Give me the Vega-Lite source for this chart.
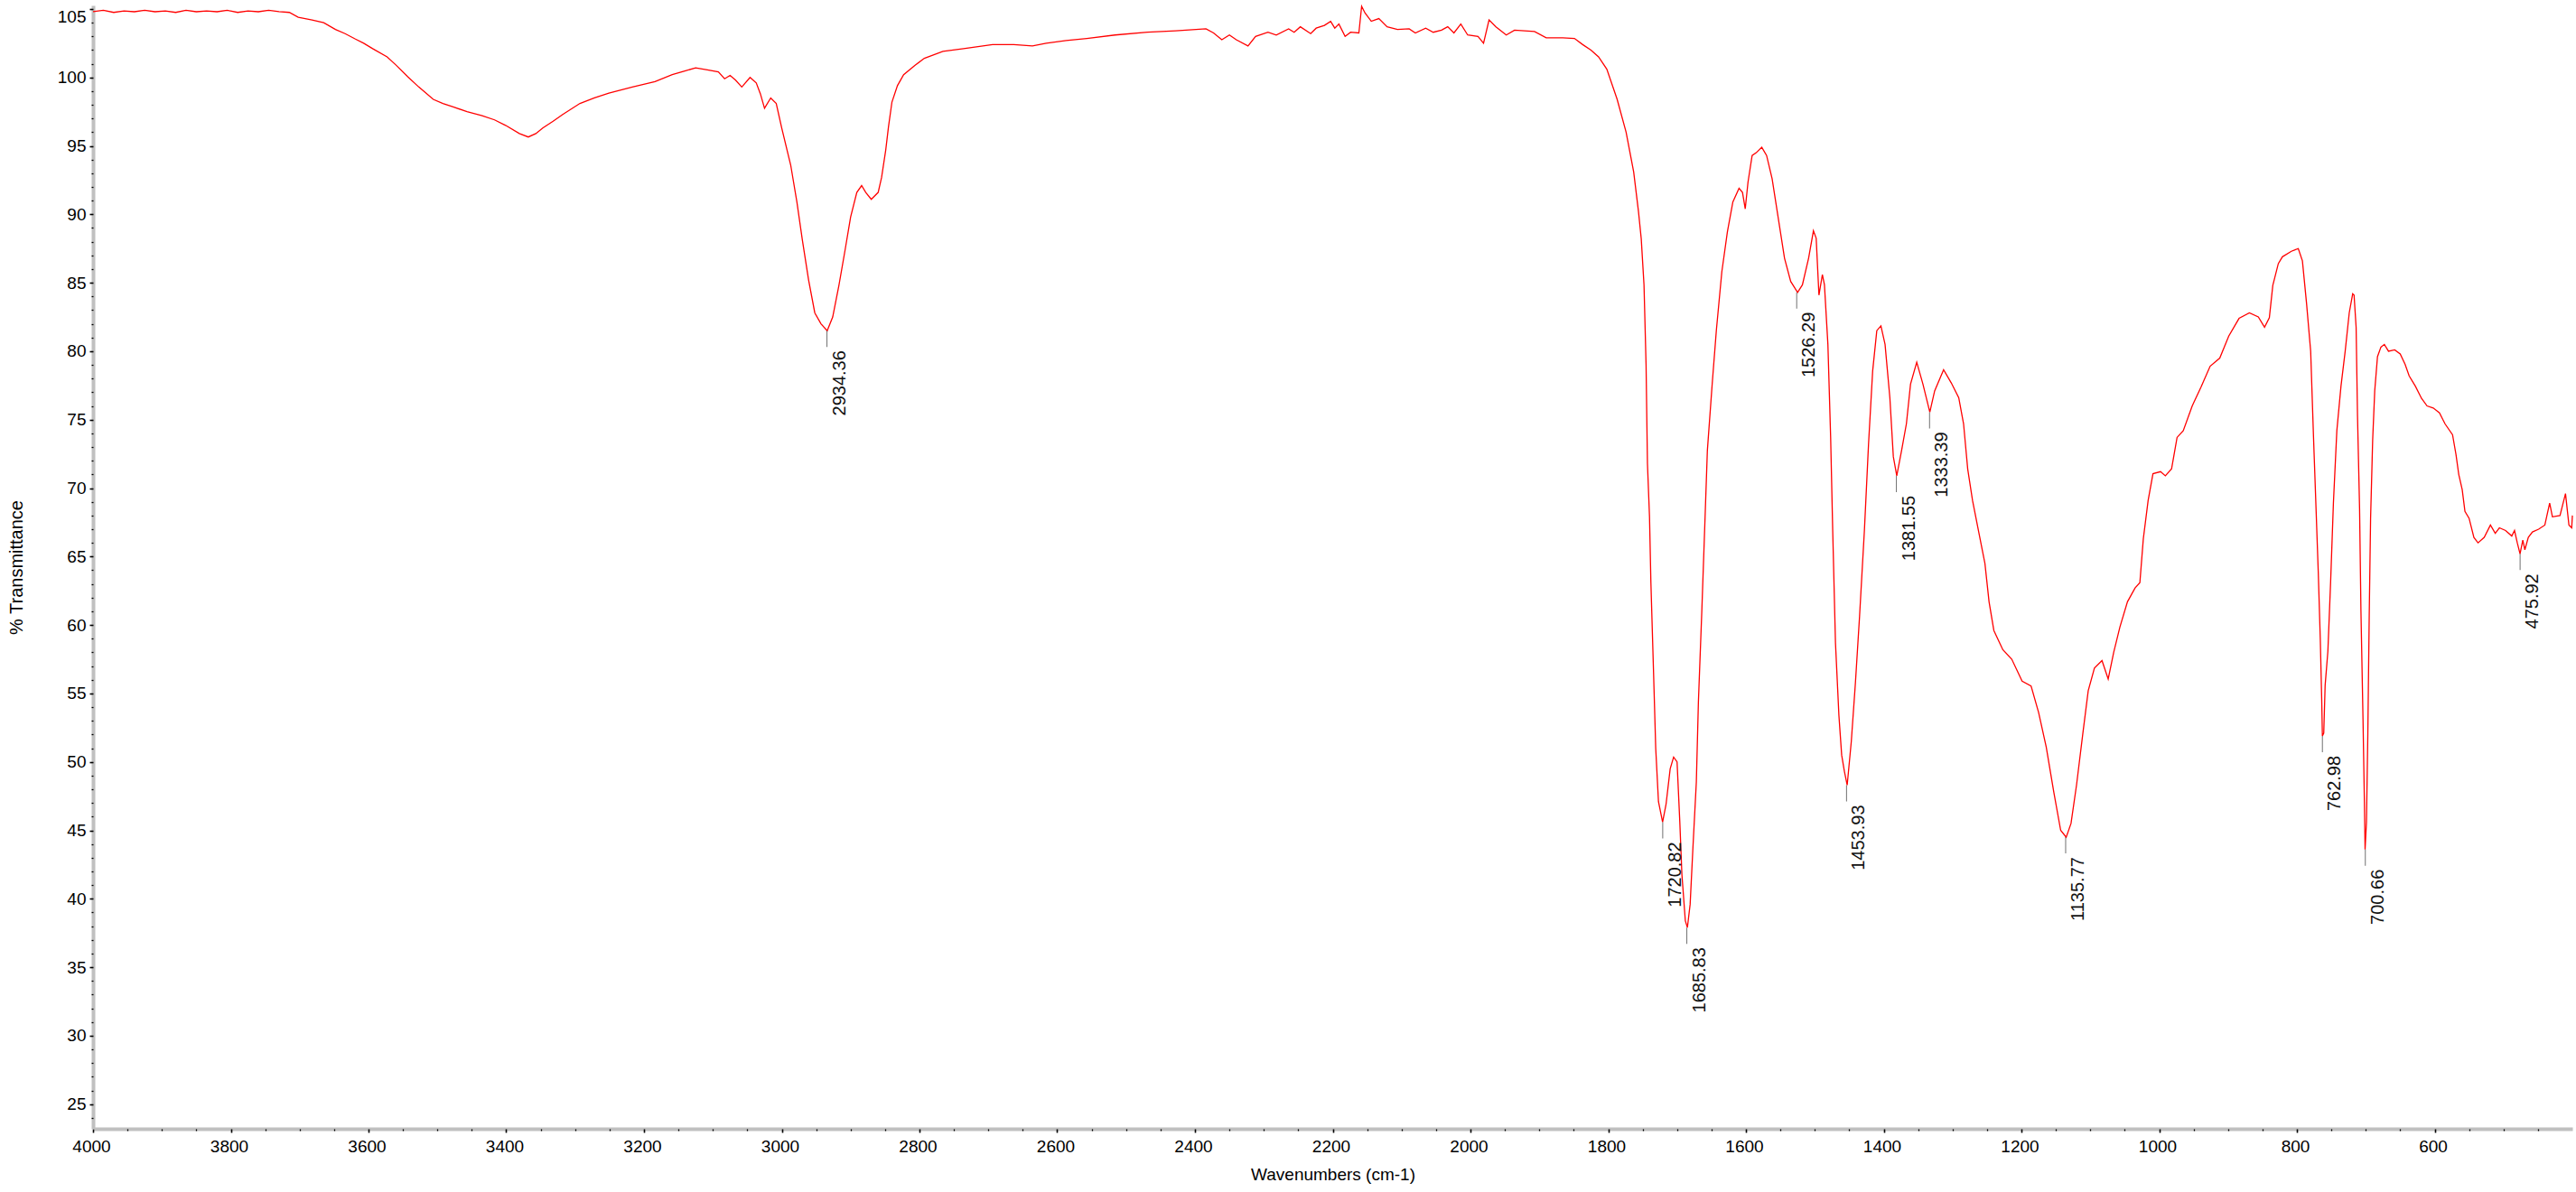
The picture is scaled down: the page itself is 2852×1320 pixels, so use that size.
{
  "$schema": "https://vega.github.io/schema/vega-lite/v6.json",
  "width": 2745,
  "height": 1244,
  "autosize": {"type": "none"},
  "padding": {"left": 103, "top": 6, "right": 4, "bottom": 70},
  "background": "white",
  "config": {"font": "Liberation Sans", "view": {"stroke": null}},
  "datasets": {
    "spectrum": [
      {"wn":4000,"T":104.8},{"wn":3985,"T":104.9},{"wn":3970,"T":104.75},{"wn":3955,"T":104.85},{"wn":3940,"T":104.8},{"wn":3925,"T":104.9},{"wn":3910,"T":104.8},{"wn":3895,"T":104.85},{"wn":3880,"T":104.75},{"wn":3865,"T":104.9},{"wn":3850,"T":104.8},{"wn":3835,"T":104.85},{"wn":3820,"T":104.8},{"wn":3805,"T":104.9},{"wn":3790,"T":104.75},{"wn":3775,"T":104.85},{"wn":3760,"T":104.8},{"wn":3745,"T":104.9},{"wn":3730,"T":104.8},{"wn":3715,"T":104.75},
      {"wn":3702,"T":104.4},{"wn":3692,"T":104.3},{"wn":3682,"T":104.2},{"wn":3665,"T":104.0},{"wn":3648,"T":103.5},{"wn":3634,"T":103.2},{"wn":3619,"T":102.8},{"wn":3607,"T":102.5},{"wn":3594,"T":102.1},{"wn":3573,"T":101.5},{"wn":3560,"T":100.9},{"wn":3543,"T":100.05},{"wn":3527,"T":99.3},{"wn":3506,"T":98.4},{"wn":3492,"T":98.1},{"wn":3477,"T":97.85},{"wn":3457,"T":97.5},{"wn":3435,"T":97.2},{"wn":3417,"T":96.9},{"wn":3401,"T":96.5},{"wn":3381,"T":95.9},{"wn":3368,"T":95.65},{"wn":3357,"T":95.9},{"wn":3347,"T":96.3},{"wn":3332,"T":96.8},{"wn":3318,"T":97.3},{"wn":3293,"T":98.1},{"wn":3272,"T":98.5},{"wn":3251,"T":98.85},{"wn":3217,"T":99.3},{"wn":3184,"T":99.7},{"wn":3159,"T":100.2},{"wn":3142,"T":100.45},{"wn":3125,"T":100.7},{"wn":3108,"T":100.55},{"wn":3092,"T":100.4},{"wn":3083,"T":99.9},{"wn":3075,"T":100.15},{"wn":3067,"T":99.8},{"wn":3058,"T":99.3},{"wn":3046,"T":100.0},{"wn":3037,"T":99.6},{"wn":3031,"T":98.8},{"wn":3025,"T":97.75},{"wn":3016,"T":98.5},{"wn":3008,"T":98.1},{"wn":3000,"T":96.3},{"wn":2987,"T":93.6},{"wn":2978,"T":90.9},{"wn":2970,"T":88.1},{"wn":2961,"T":85.2},{"wn":2952,"T":82.8},{"wn":2943,"T":82.0},{"wn":2934,"T":81.5},{"wn":2926,"T":82.5},{"wn":2917,"T":84.8},{"wn":2908,"T":87.4},{"wn":2900,"T":89.8},{"wn":2891,"T":91.6},{"wn":2884,"T":92.1},{"wn":2878,"T":91.6},{"wn":2870,"T":91.1},{"wn":2860,"T":91.6},{"wn":2855,"T":92.7},{"wn":2849,"T":94.7},{"wn":2845,"T":96.4},{"wn":2840,"T":98.2},{"wn":2832,"T":99.4},{"wn":2823,"T":100.2},{"wn":2806,"T":100.9},{"wn":2793,"T":101.4},{"wn":2766,"T":101.9},{"wn":2736,"T":102.1},{"wn":2694,"T":102.4},{"wn":2663,"T":102.4},{"wn":2636,"T":102.3},{"wn":2616,"T":102.5},{"wn":2587,"T":102.7},{"wn":2557,"T":102.85},{"wn":2516,"T":103.1},{"wn":2469,"T":103.3},{"wn":2428,"T":103.4},{"wn":2384,"T":103.55},{"wn":2373,"T":103.25},{"wn":2361,"T":102.75},{"wn":2350,"T":103.1},{"wn":2340,"T":102.75},{"wn":2323,"T":102.3},{"wn":2312,"T":103.0},{"wn":2294,"T":103.3},{"wn":2282,"T":103.1},{"wn":2264,"T":103.55},{"wn":2256,"T":103.3},{"wn":2247,"T":103.7},{"wn":2232,"T":103.2},{"wn":2224,"T":103.6},{"wn":2212,"T":103.8},{"wn":2203,"T":104.1},{"wn":2197,"T":103.6},{"wn":2191,"T":103.9},{"wn":2182,"T":103.0},{"wn":2174,"T":103.3},{"wn":2162,"T":103.25},{"wn":2158,"T":105.2},{"wn":2153,"T":104.7},{"wn":2144,"T":104.1},{"wn":2133,"T":104.3},{"wn":2121,"T":103.7},{"wn":2106,"T":103.5},{"wn":2089,"T":103.55},{"wn":2080,"T":103.25},{"wn":2065,"T":103.6},{"wn":2054,"T":103.3},{"wn":2042,"T":103.45},{"wn":2033,"T":103.7},{"wn":2024,"T":103.25},{"wn":2014,"T":103.9},{"wn":2004,"T":103.1},{"wn":1989,"T":103.0},{"wn":1981,"T":102.5},{"wn":1973,"T":104.2},{"wn":1963,"T":103.7},{"wn":1948,"T":103.1},{"wn":1936,"T":103.45},{"wn":1907,"T":103.35},{"wn":1890,"T":102.9},{"wn":1866,"T":102.9},{"wn":1849,"T":102.85},{"wn":1837,"T":102.4},{"wn":1825,"T":102.0},{"wn":1814,"T":101.5},{"wn":1802,"T":100.6},{"wn":1787,"T":98.4},{"wn":1774,"T":96.0},{"wn":1763,"T":93.1},{"wn":1756,"T":90.2},{"wn":1752,"T":88.2},{"wn":1748,"T":84.85},{"wn":1745,"T":79.0},{"wn":1743,"T":71.8},{"wn":1740,"T":67.9},{"wn":1738,"T":63.1},{"wn":1734,"T":56.3},{"wn":1731,"T":51.0},{"wn":1727,"T":47.1},{"wn":1721,"T":45.6},{"wn":1716,"T":46.9},{"wn":1710,"T":49.5},{"wn":1705,"T":50.35},{"wn":1700,"T":50.0},{"wn":1696,"T":45.6},{"wn":1693,"T":41.8},{"wn":1688,"T":38.4},{"wn":1685,"T":37.9},{"wn":1681,"T":39.6},{"wn":1677,"T":43.7},{"wn":1672,"T":48.55},{"wn":1669,"T":54.4},{"wn":1664,"T":61.1},{"wn":1660,"T":66.9},{"wn":1656,"T":72.75},{"wn":1649,"T":77.6},{"wn":1643,"T":81.5},{"wn":1635,"T":85.8},{"wn":1627,"T":88.7},{"wn":1619,"T":90.9},{"wn":1610,"T":91.9},{"wn":1605,"T":91.6},{"wn":1601,"T":90.4},{"wn":1597,"T":92.35},{"wn":1591,"T":94.3},{"wn":1585,"T":94.5},{"wn":1577,"T":94.9},{"wn":1570,"T":94.3},{"wn":1562,"T":92.6},{"wn":1553,"T":89.7},{"wn":1544,"T":86.8},{"wn":1535,"T":85.1},{"wn":1525,"T":84.3},{"wn":1518,"T":84.85},{"wn":1509,"T":86.8},{"wn":1502,"T":88.8},{"wn":1498,"T":88.25},{"wn":1494,"T":84.1},{"wn":1489,"T":85.6},{"wn":1486,"T":84.85},{"wn":1481,"T":80.5},{"wn":1477,"T":73.7},{"wn":1474,"T":66.9},{"wn":1470,"T":58.7},{"wn":1465,"T":53.4},{"wn":1461,"T":50.5},{"wn":1457,"T":49.3},{"wn":1453,"T":48.3},{"wn":1447,"T":51.5},{"wn":1441,"T":55.8},{"wn":1435,"T":60.65},{"wn":1428,"T":66.9},{"wn":1422,"T":73.2},{"wn":1416,"T":78.55},{"wn":1410,"T":81.5},{"wn":1404,"T":81.85},{"wn":1398,"T":80.5},{"wn":1391,"T":76.6},{"wn":1386,"T":72.3},{"wn":1381,"T":70.9},{"wn":1374,"T":72.75},{"wn":1367,"T":74.7},{"wn":1361,"T":77.6},{"wn":1352,"T":79.2},{"wn":1343,"T":77.6},{"wn":1333,"T":75.55},{"wn":1326,"T":77.1},{"wn":1313,"T":78.65},{"wn":1302,"T":77.7},{"wn":1291,"T":76.6},{"wn":1284,"T":74.7},{"wn":1278,"T":71.4},{"wn":1271,"T":69.1},{"wn":1262,"T":66.8},{"wn":1253,"T":64.5},{"wn":1247,"T":61.7},{"wn":1240,"T":59.6},{"wn":1227,"T":58.2},{"wn":1214,"T":57.5},{"wn":1199,"T":55.9},{"wn":1186,"T":55.55},{"wn":1175,"T":53.6},{"wn":1164,"T":51.1},{"wn":1153,"T":47.8},{"wn":1143,"T":45.0},{"wn":1135,"T":44.5},{"wn":1128,"T":45.5},{"wn":1120,"T":48.3},{"wn":1111,"T":52.0},{"wn":1103,"T":55.2},{"wn":1094,"T":56.85},{"wn":1083,"T":57.4},{"wn":1074,"T":56.05},{"wn":1066,"T":58.0},{"wn":1057,"T":59.85},{"wn":1046,"T":61.7},{"wn":1035,"T":62.7},{"wn":1028,"T":63.1},{"wn":1023,"T":66.3},{"wn":1016,"T":69.1},{"wn":1009,"T":71.05},{"wn":998,"T":71.2},{"wn":991,"T":70.9},{"wn":982,"T":71.4},{"wn":974,"T":73.7},{"wn":965,"T":74.2},{"wn":952,"T":76.0},{"wn":939,"T":77.4},{"wn":926,"T":78.9},{"wn":912,"T":79.5},{"wn":899,"T":81.1},{"wn":884,"T":82.4},{"wn":869,"T":82.8},{"wn":856,"T":82.5},{"wn":847,"T":81.75},{"wn":840,"T":82.45},{"wn":835,"T":84.8},{"wn":827,"T":86.4},{"wn":821,"T":86.9},{"wn":808,"T":87.3},{"wn":798,"T":87.5},{"wn":792,"T":86.6},{"wn":786,"T":83.5},{"wn":780,"T":80.0},{"wn":776,"T":73.9},{"wn":772,"T":68.2},{"wn":769,"T":63.9},{"wn":766,"T":58.9},{"wn":764,"T":54.6},{"wn":763,"T":51.9},{"wn":761,"T":52.1},{"wn":759,"T":55.6},{"wn":755,"T":58.1},{"wn":751,"T":63.2},{"wn":747,"T":68.9},{"wn":742,"T":74.2},{"wn":736,"T":77.45},{"wn":730,"T":79.95},{"wn":724,"T":82.8},{"wn":719,"T":84.2},{"wn":717,"T":84.1},{"wn":714,"T":81.75},{"wn":712,"T":75.3},{"wn":709,"T":68.5},{"wn":707,"T":61.0},{"wn":704,"T":53.1},{"wn":702,"T":47.1},{"wn":701,"T":43.6},{"wn":699,"T":45.6},{"wn":697,"T":52.1},{"wn":695,"T":60.65},{"wn":693,"T":67.8},{"wn":690,"T":73.5},{"wn":687,"T":77.1},{"wn":683,"T":79.6},{"wn":678,"T":80.3},{"wn":673,"T":80.5},{"wn":667,"T":80.0},{"wn":658,"T":80.1},{"wn":650,"T":79.8},{"wn":643,"T":79.05},{"wn":637,"T":78.2},{"wn":628,"T":77.45},{"wn":619,"T":76.55},{"wn":611,"T":76.0},{"wn":602,"T":75.85},{"wn":593,"T":75.5},{"wn":585,"T":74.7},{"wn":574,"T":73.9},{"wn":569,"T":72.45},{"wn":565,"T":71.0},{"wn":560,"T":69.9},{"wn":556,"T":68.3},{"wn":550,"T":67.8},{"wn":543,"T":66.4},{"wn":537,"T":66.0},{"wn":528,"T":66.4},{"wn":519,"T":67.3},{"wn":512,"T":66.7},{"wn":506,"T":67.1},{"wn":497,"T":66.9},{"wn":488,"T":66.5},{"wn":484,"T":66.9},{"wn":480,"T":66.0},{"wn":476,"T":65.2},{"wn":472,"T":66.2},{"wn":469,"T":65.5},{"wn":464,"T":66.4},{"wn":458,"T":66.8},{"wn":449,"T":67.0},{"wn":440,"T":67.3},{"wn":433,"T":68.9},{"wn":429,"T":67.9},{"wn":418,"T":68.0},{"wn":410,"T":69.6},{"wn":405,"T":67.3},{"wn":401,"T":67.1},{"wn":400,"T":68.0}
    ],
    "peaks": [
      {"wn":2934.36,"T":81.5,"label":"2934.36"},
      {"wn":1720.82,"T":45.6,"label":"1720.82"},
      {"wn":1685.83,"T":37.9,"label":"1685.83"},
      {"wn":1526.29,"T":84.3,"label":"1526.29"},
      {"wn":1453.93,"T":48.3,"label":"1453.93"},
      {"wn":1381.55,"T":70.9,"label":"1381.55"},
      {"wn":1333.39,"T":75.55,"label":"1333.39"},
      {"wn":1135.77,"T":44.5,"label":"1135.77"},
      {"wn":762.98,"T":51.9,"label":"762.98"},
      {"wn":700.66,"T":43.6,"label":"700.66"},
      {"wn":475.92,"T":65.2,"label":"475.92"}
    ]
  },
  "layer": [
    {
      "data": {"name": "spectrum"},
      "mark": {"type": "line", "color": "#ff0000", "strokeWidth": 1.3},
      "encoding": {
        "x": {"field": "wn", "type": "quantitative",
          "scale": {"domain": [4000, 400], "nice": false, "zero": false},
          "axis": {"orient": "bottom", "values": [4000,3800,3600,3400,3200,3000,2800,2600,2400,2200,2000,1800,1600,1400,1200,1000,800,600],
            "format": "d", "grid": false, "ticks": true, "tickSize": 4, "tickOpacity": 0,
            "domainColor": "#c0c0c0", "domainWidth": 4,
            "labelFontSize": 19, "labelColor": "#000", "labelPadding": 6, "labelOffset": -2, "labelOverlap": false, "labelFlush": false,
            "title": "Wavenumbers (cm-1)", "titleFontSize": 19, "titleFontWeight": "normal", "titleColor": "#000", "titlePadding": 12}},
        "y": {"field": "T", "type": "quantitative",
          "scale": {"domain": [23.2, 105.26], "nice": false, "zero": false},
          "axis": {"orient": "left", "values": [25,30,35,40,45,50,55,60,65,70,75,80,85,90,95,100,105],
            "format": "d", "grid": false, "ticks": true, "tickSize": 4, "tickOpacity": 0,
            "domainColor": "#c0c0c0", "domainWidth": 4,
            "labelFontSize": 19, "labelColor": "#000", "labelPadding": 4, "labelFlush": 5, "labelOverlap": false,
            "title": "% Transmittance", "titleFontSize": 20, "titleFontWeight": "normal", "titleColor": "#000", "titlePadding": 35}}
      }
    },
    {
      "data": {"name": "peaks"},
      "mark": {"type": "tick", "orient": "vertical", "size": 18, "thickness": 1, "color": "#333333", "yOffset": 9},
      "encoding": {
        "x": {"field": "wn", "type": "quantitative",
          "axis": {"orient": "bottom", "values": [4000,3950,3900,3850,3800,3750,3700,3650,3600,3550,3500,3450,3400,3350,3300,3250,3200,3150,3100,3050,3000,2950,2900,2850,2800,2750,2700,2650,2600,2550,2500,2450,2400,2350,2300,2250,2200,2150,2100,2050,2000,1950,1900,1850,1800,1750,1700,1650,1600,1550,1500,1450,1400,1350,1300,1250,1200,1150,1100,1050,1000,950,900,850,800,750,700,650,600,550,500,450],
            "domain": false, "labels": false, "grid": false, "title": null, "tickColor": "#000",
            "tickSize": {"condition": {"test": "datum.value % 200 === 0", "value": 4}, "value": 2},
            "tickWidth": {"condition": {"test": "datum.value % 200 === 0", "value": 1.6}, "value": 1.3}}},
        "y": {"field": "T", "type": "quantitative",
          "axis": {"orient": "left", "values": [24,25,26,27,28,29,30,31,32,33,34,35,36,37,38,39,40,41,42,43,44,45,46,47,48,49,50,51,52,53,54,55,56,57,58,59,60,61,62,63,64,65,66,67,68,69,70,71,72,73,74,75,76,77,78,79,80,81,82,83,84,85,86,87,88,89,90,91,92,93,94,95,96,97,98,99,100,101,102,103,104,105],
            "domain": false, "labels": false, "grid": false, "title": null, "tickColor": "#000",
            "tickSize": {"condition": {"test": "datum.value % 5 === 0", "value": 4}, "value": 2},
            "tickWidth": {"condition": {"test": "datum.value % 5 === 0", "value": 1.6}, "value": 1.3}}}
      }
    },
    {
      "data": {"name": "peaks"},
      "mark": {"type": "text", "angle": 270, "align": "right", "baseline": "middle", "dx": -22, "dy": 14, "fontSize": 20, "color": "#111111"},
      "encoding": {
        "x": {"field": "wn", "type": "quantitative", "axis": null},
        "y": {"field": "T", "type": "quantitative", "axis": null},
        "text": {"field": "label"}
      }
    },
    {
      "mark": {"type": "text", "align": "left", "baseline": "middle", "dx": 5, "fontSize": 19, "color": "#ff0000"},
      "encoding": {
        "x": {"datum": 4000, "type": "quantitative", "axis": null},
        "y": {"datum": 104.1, "type": "quantitative", "axis": null},
        "text": {"value": "2019-4-1 Average"}
      }
    }
  ],
  "resolve": {"axis": {"x": "independent", "y": "independent"}}
}
